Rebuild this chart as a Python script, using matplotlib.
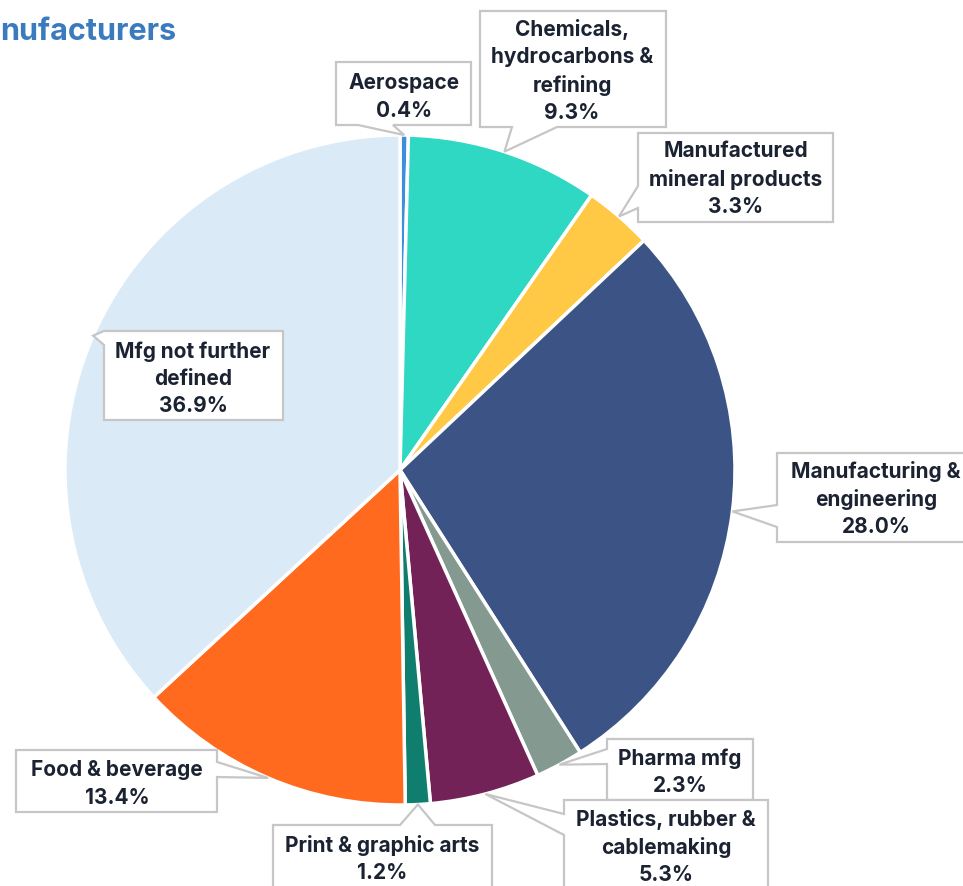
"""Manufacturers breakdown pie with boxed callout labels."""

import numpy as np
import matplotlib.pyplot as plt
from matplotlib.patches import Polygon

plt.rcParams.update({
    "font.family": ["Inter", "DejaVu Sans"],
    "font.weight": "bold",
})

W, H = 963, 886
TEXT = "#1b2231"
EDGE = "#c6c6c6"

# ---------------------------------------------------------------------------
# data (clockwise from 12 o'clock)
# ---------------------------------------------------------------------------
labels = [
    "Aerospace",
    "Chemicals,\nhydrocarbons &\nrefining",
    "Manufactured\nmineral products",
    "Manufacturing &\nengineering",
    "Pharma mfg",
    "Plastics, rubber &\ncablemaking",
    "Print & graphic arts",
    "Food & beverage",
    "Mfg not further\ndefined",
]
shares = [0.4, 9.3, 3.3, 28.0, 2.3, 5.3, 1.2, 13.4, 36.9]
colors = ["#3d8fdb", "#2ed8c3", "#ffc845", "#3b5485", "#84998f",
          "#722257", "#0f7e6e", "#ff6a1f", "#dbeaf7"]

# callout boxes in pixels (x0, y0, x1, y1), top-left origin,
# plus the side the pointer leaves from and its base span along that side
boxes = [
    ((336, 62, 471, 125), "bottom", (358, 393)),
    ((480, 11, 666, 127), "bottom", (512, 557)),
    ((638, 133, 833, 222), "left", (186, 208)),
    ((777, 453, 980, 542), "left", (505, 527)),
    ((607, 739, 753, 800), "left", (749, 764)),
    ((564, 800, 768, 900), "left", (814, 835)),
    ((273, 825, 492, 900), "top", (400, 435)),
    ((16, 750, 217, 812), "right", (762, 777)),
    ((104, 331, 283, 420), "left", (331, 345)),
]
# text centres in pixels
text_centres = [(404, 97), (572, 71), (736, 179), (876, 499), (680, 772),
                (666, 847), (382, 859), (117, 784), (193, 379)]

fig = plt.figure(figsize=(W / 100, H / 100), dpi=100)
fig.patch.set_facecolor("white")

# pie centre (400, 470) px, radius 335 px
cx, cy, r = 400, 470, 335
ax = fig.add_axes([(cx - r) / W, (H - cy - r) / H, 2 * r / W, 2 * r / H])
wedges, _ = ax.pie(shares, colors=colors, startangle=90, counterclock=False,
                   wedgeprops=dict(edgecolor="white", linewidth=2.5))
ax.set_xlim(-1, 1)
ax.set_ylim(-1, 1)
ax.axis("off")


def px(x, y):
    return x / W, 1 - y / H


to_fig = ax.transData + fig.transFigure.inverted()

for w, (box, side, base) in zip(wedges, boxes):
    mid = np.deg2rad((w.theta1 + w.theta2) / 2)
    tip = to_fig.transform((np.cos(mid), np.sin(mid)))
    x0, y0, x1, y1 = box
    a, b = base
    if side == "top":
        pts = [(x0, y0), (a, y0), "tip", (b, y0), (x1, y0), (x1, y1), (x0, y1)]
    elif side == "bottom":
        pts = [(x0, y0), (x1, y0), (x1, y1), (b, y1), "tip", (a, y1), (x0, y1)]
    elif side == "left":
        pts = [(x0, y0), (x1, y0), (x1, y1), (x0, y1), (x0, b), "tip", (x0, a)]
    else:
        pts = [(x0, y0), (x1, y0), (x1, a), "tip", (x1, b), (x1, y1), (x0, y1)]
    verts = [tuple(tip) if p == "tip" else px(*p) for p in pts]
    fig.add_artist(Polygon(verts, closed=True, facecolor="white",
                           edgecolor=EDGE, linewidth=1.6,
                           transform=fig.transFigure, zorder=5))

# text goes on top after all boxes (plastics box overlaps pharma box)
for lab, val, (tx, ty) in zip(labels, shares, text_centres):
    fig.text(*px(tx, ty), f"{lab}\n{val:.1f}%", ha="center", va="center",
             fontsize=15, color=TEXT, linespacing=1.45, zorder=6)

fig.text(*px(0, 32), "nufacturers", ha="left", va="center",
         fontsize=22, color="#3a7abf", fontweight="bold")

fig.savefig("out.png", dpi=100, facecolor="white")
